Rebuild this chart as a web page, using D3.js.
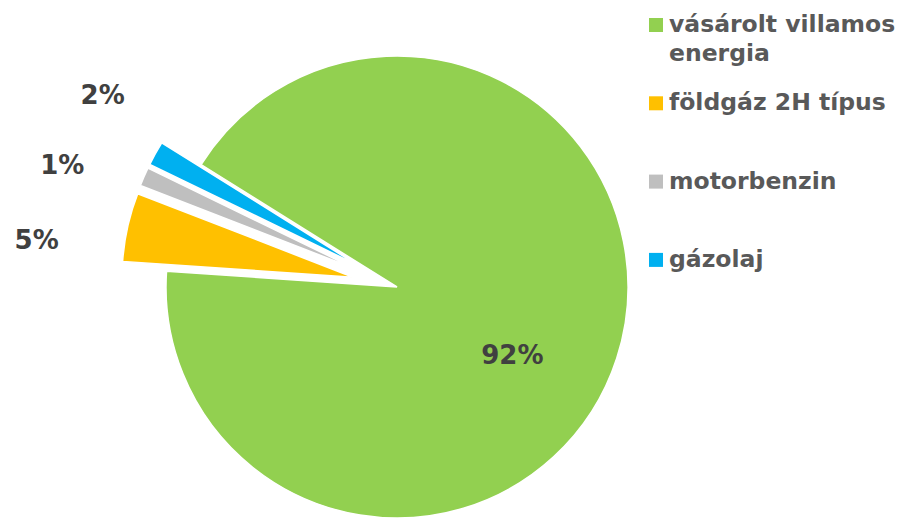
<!DOCTYPE html>
<meta charset="utf-8">
<style>
  body { margin: 0; background: #fff; }
  text { font-family: "DejaVu Sans", Verdana, sans-serif; font-weight: bold; }
</style>
<svg width="905" height="518"></svg>
<script src="https://cdn.jsdelivr.net/npm/d3@7/dist/d3.min.js"></script>
<script>

var categories = ["vásárolt villamos energia", "földgáz 2H típus", "motorbenzin", "gázolaj"];
var legendLines = [["vásárolt villamos", "energia"], ["földgáz 2H típus"], ["motorbenzin"], ["gázolaj"]];
var shares = [92.2, 4.8, 1.3, 1.7];
var colors = ["#92D050", "#FFC000", "#BFBFBF", "#00B0F0"];

var svg = d3.select("svg"),
    cx = 397, cy = 287,
    radius = 231,
    explode = 45;

var deg = Math.PI / 180;
var firstAngle = 302 * deg;

var pie = d3.pie()
    .sort(null)
    .value(function(d){ return d; })
    .startAngle(firstAngle)
    .endAngle(firstAngle + 2 * Math.PI);

var arcs = pie(shares);

var arc = d3.arc().innerRadius(0).outerRadius(radius);

function mid(d){ return (d.startAngle + d.endAngle) / 2; }

function offset(d){
    var k = d.index > 0 ? explode : 0;
    var a = mid(d);
    return [k * Math.sin(a), -k * Math.cos(a)];
}

var g = svg.append("g")
    .attr("transform", "translate(" + cx + "," + cy + ")");

g.selectAll("path.slice")
    .data(arcs)
    .enter()
    .append("path")
    .classed("slice", true)
    .attr("d", arc)
    .attr("transform", function(d){ var o = offset(d); return "translate(" + o[0] + "," + o[1] + ")"; })
    .attr("fill", function(d, i){ return colors[i]; })
    .attr("stroke", "#fff")
    .attr("stroke-width", 1.5);

// outside labels for the small slices, spread apart so they don't collide
var outside = arcs.filter(function(d){ return d.index > 0; })
    .map(function(d){ return { d: d, a: mid(d) }; })
    .sort(function(p, q){ return p.a - q.a; });

var minGap = 12.8 * deg;
var meanA = d3.mean(outside, function(p){ return p.a; }) - 1.2 * deg;
outside.forEach(function(p, i){
    p.a = meanA + (i - (outside.length - 1) / 2) * minGap;
});

var labelR = 350;

// labels close to horizontal get pushed out a bit more
function labelPos(a){
    var sx = Math.sin(a), sy = -Math.cos(a);
    return [labelR * sx - 15 * Math.pow(sx, 12), labelR * sy];
}

g.selectAll("text.out")
    .data(outside)
    .enter()
    .append("text")
    .classed("out", true)
    .attr("x", function(p){ return labelPos(p.a)[0]; })
    .attr("y", function(p){ return labelPos(p.a)[1]; })
    .attr("text-anchor", "middle")
    .attr("dy", "0.35em")
    .style("font-size", "26px")
    .style("fill", "#404040")
    .text(function(p){ return Math.round(p.d.value) + "%"; });

var inside = arcs[0];
var insideR = radius * 0.58;
g.append("text")
    .attr("x", insideR * Math.sin(mid(inside) + 0.22))
    .attr("y", -insideR * Math.cos(mid(inside) + 0.22))
    .attr("text-anchor", "middle")
    .attr("dy", "0.35em")
    .style("font-size", "26px")
    .style("fill", "#404040")
    .text(Math.round(inside.value) + "%");

// legend
var legend = svg.append("g")
    .attr("transform", "translate(649,32)");

var item = legend.selectAll("g.item")
    .data(categories)
    .enter()
    .append("g")
    .classed("item", true)
    .attr("transform", function(d, i){ return "translate(0," + (i * 78.3) + ")"; });

item.append("rect")
    .attr("x", 0)
    .attr("y", -14)
    .attr("width", 14)
    .attr("height", 14)
    .attr("fill", function(d, i){ return colors[i]; });

item.append("text")
    .attr("x", 20)
    .style("font-size", "23.5px")
    .style("fill", "#595959")
    .selectAll("tspan")
    .data(function(d, i){ return legendLines[i]; })
    .enter()
    .append("tspan")
    .attr("x", 20)
    .attr("dy", function(d, j){ return j === 0 ? 0 : 29; })
    .text(function(d){ return d; });

</script>
